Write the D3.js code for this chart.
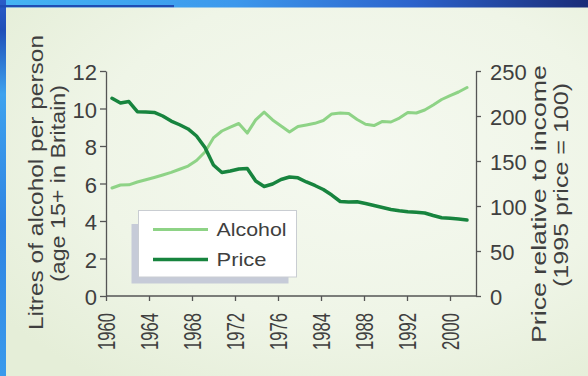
<!DOCTYPE html>
<html>
<head>
<meta charset="utf-8">
<script src="https://cdn.jsdelivr.net/npm/d3@7/dist/d3.min.js"></script>
<style>
  html, body { margin: 0; padding: 0; background: #2f7ee0; }
  svg { display: block; }
  text { font-family: "Liberation Sans", Arial, Helvetica, sans-serif; fill: #3f3f3f; }
</style>
</head>
<body>
<svg id="chart" width="588" height="376"></svg>
<script>
// Annual series, 1960–2002
const years = [1960, 1961, 1962, 1963, 1964, 1965, 1966, 1967, 1968, 1969,
               1970, 1971, 1972, 1973, 1974, 1975, 1976, 1977, 1978, 1979,
               1980, 1981, 1982, 1983, 1984, 1985, 1986, 1987, 1988, 1989,
               1990, 1991, 1992, 1993, 1994, 1995, 1996, 1997, 1998, 1999,
               2000, 2001, 2002];

// Litres of alcohol per person (age 15+)
const alcohol = [5.76, 5.92, 5.93, 6.08, 6.20, 6.32, 6.45, 6.59, 6.76, 6.93,
                 7.23, 7.68, 8.43, 8.80, 9.01, 9.20, 8.69, 9.39, 9.81, 9.39,
                 9.07, 8.75, 9.04, 9.12, 9.21, 9.36, 9.71, 9.76, 9.73, 9.41,
                 9.16, 9.09, 9.31, 9.28, 9.49, 9.79, 9.76, 9.92, 10.19, 10.48,
                 10.69, 10.88, 11.12];

// Price relative to income (1995 price = 100)
const price = [219.7, 214.4, 216.1, 204.8, 204.4, 204.0, 200.0, 194.4, 190.3, 185.6,
               177.8, 165.0, 145.6, 137.2, 138.9, 141.1, 141.7, 127.8, 121.7, 124.4,
               129.4, 132.2, 131.3, 126.7, 122.8, 118.3, 112.2, 105.0, 104.4, 104.7,
               102.8, 100.6, 98.3, 96.1, 94.7, 93.6, 93.0, 92.2, 89.4, 86.9,
               86.3, 85.6, 84.4];

const yearTickLabels = ["1960", "1964", "1968", "1972", "1976", "1984", "1988", "1992", "2000"];
const alcoholTicks = [0, 2, 4, 6, 8, 10, 12];
const priceTicks = [0, 50, 100, 150, 200, 250];
const seriesNames = ["Alcohol", "Price"];
const seriesColors = ["#8ed386", "#17843e"];

const svg = d3.select("#chart");
const W = 588, H = 376;

// ---- backdrop: blue frame and pale panel ----
const defs = svg.append("defs");
const topGrad = defs.append("linearGradient").attr("id", "topGrad");
[["0%", "#44b4f4"], ["40%", "#3c98ec"], ["70%", "#2c63cc"], ["100%", "#1a2c78"]]
  .forEach(([o, c]) => topGrad.append("stop").attr("offset", o).attr("stop-color", c));
const leftGrad = defs.append("linearGradient").attr("id", "leftGrad")
  .attr("x1", 0).attr("y1", 0).attr("x2", 0).attr("y2", 1);
[["0%", "#2a5cc8"], ["8%", "#1f4fb8"], ["25%", "#3ea2ee"], ["60%", "#2f84e2"], ["100%", "#3a9aec"]]
  .forEach(([o, c]) => leftGrad.append("stop").attr("offset", o).attr("stop-color", c));
const panelGrad = defs.append("radialGradient").attr("id", "panelGrad")
  .attr("cx", "60%").attr("cy", "40%").attr("r", "75%");
[["0%", "#f5f9f0"], ["60%", "#eff5e7"], ["100%", "#e5eed8"]]
  .forEach(([o, c]) => panelGrad.append("stop").attr("offset", o).attr("stop-color", c));

svg.append("rect").attr("width", W).attr("height", H).attr("fill", "url(#topGrad)");
svg.append("rect").attr("x", 0).attr("y", 0).attr("width", 6).attr("height", H).attr("fill", "url(#leftGrad)");
svg.append("rect").attr("x", 0).attr("y", 5).attr("width", 174).attr("height", 2.5).attr("fill", "#1f4cb4");
svg.append("rect").attr("x", 6).attr("y", 7.5).attr("width", W - 6).attr("height", H - 7.5).attr("fill", "url(#panelGrad)");

// ---- scales ----
const plotLeft = 106, plotRight = 476, plotTop = 71, plotBottom = 296;
const xYear = d3.scaleLinear().domain([years[0], years[years.length - 1]]).range([112, 467]);
const xTick = d3.scalePoint().domain(yearTickLabels).range([plotLeft, 450]);
const yAlc = d3.scaleLinear().domain([0, 12]).range([plotBottom, plotTop]);
const yPrice = d3.scaleLinear().domain([0, 250]).range([plotBottom, plotTop]);

const axisColor = "#555";

function styleAxis(g) {
  g.attr("font-family", null).attr("font-size", null);
  g.selectAll("path.domain").attr("stroke", axisColor).attr("stroke-width", 1.3);
  g.selectAll(".tick line").attr("stroke", axisColor).attr("stroke-width", 1.3);
  g.selectAll(".tick text").attr("fill", "#404040").style("font-size", "22px");
}

// left axis
svg.append("g")
  .attr("transform", `translate(${plotLeft},0)`)
  .call(d3.axisLeft(yAlc).tickValues(alcoholTicks).tickSize(6).tickSizeOuter(0).tickPadding(3))
  .call(styleAxis)
  .selectAll(".tick text").attr("dy", "0.4em");

// right axis
svg.append("g")
  .attr("transform", `translate(${plotRight},0)`)
  .call(d3.axisRight(yPrice).tickValues(priceTicks).tickSize(5).tickSizeOuter(0).tickPadding(9))
  .call(styleAxis)
  .selectAll(".tick text").attr("dy", "0.38em");

// bottom axis with upright-reading year labels
const xAxisG = svg.append("g")
  .attr("transform", `translate(0,${plotBottom})`)
  .call(d3.axisBottom(xTick).tickSize(5).tickSizeOuter(0))
  .call(styleAxis);
xAxisG.select("path.domain").remove();
xAxisG.append("line")
  .attr("x1", plotLeft).attr("x2", plotRight).attr("y1", 0).attr("y2", 0)
  .attr("stroke", axisColor).attr("stroke-width", 1.3);
xAxisG.selectAll(".tick text")
  .style("font-size", "23px")
  .attr("transform", "rotate(-90)")
  .attr("x", -17).attr("y", 0).attr("dy", "0.36em")
  .attr("text-anchor", "end")
  .attr("textLength", 37).attr("lengthAdjust", "spacingAndGlyphs");

// ---- axis titles ----
function vTitle(text, x, yc, len, size) {
  svg.append("text")
    .attr("transform", `translate(${x},${yc}) rotate(-90)`)
    .attr("text-anchor", "middle")
    .style("font-size", size + "px")
    .attr("textLength", len).attr("lengthAdjust", "spacingAndGlyphs")
    .text(text);
}
vTitle("Litres of alcohol per person", 43, 182.5, 295, 20);
vTitle("(age 15+ in Britain)", 65, 183.5, 197, 20);
vTitle("Price relative to income", 546, 204, 278, 21);
vTitle("(1995 price = 100)", 568, 185, 204, 20);

// ---- series lines ----
const alcLine = d3.line().x((d, i) => xYear(years[i])).y(d => yAlc(d));
const priceLine = d3.line().x((d, i) => xYear(years[i])).y(d => yPrice(d));

svg.append("path").datum(alcohol)
  .attr("d", alcLine).attr("fill", "none")
  .attr("stroke", seriesColors[0]).attr("stroke-width", 3)
  .attr("stroke-linejoin", "round").attr("stroke-linecap", "round");
svg.append("path").datum(price)
  .attr("d", priceLine).attr("fill", "none")
  .attr("stroke", seriesColors[1]).attr("stroke-width", 3.5)
  .attr("stroke-linejoin", "round").attr("stroke-linecap", "round");

// ---- legend box with drop shadow ----
const legend = svg.append("g");
legend.append("rect").attr("x", 131.5).attr("y", 224).attr("width", 157).attr("height", 59.5)
  .attr("fill", "#c6cbd8");
legend.append("rect").attr("x", 138.5).attr("y", 210.5).attr("width", 158).attr("height", 66.5)
  .attr("fill", "#ffffff").attr("stroke", "#c9cdd2").attr("stroke-width", 1);
const legendRows = [229.5, 259.5];
const legendTextLen = [70, 50];
seriesNames.forEach((name, i) => {
  legend.append("line")
    .attr("x1", 153).attr("x2", 208).attr("y1", legendRows[i]).attr("y2", legendRows[i])
    .attr("stroke", seriesColors[i]).attr("stroke-width", i === 0 ? 3 : 3.5);
  legend.append("text")
    .attr("x", 216.5).attr("y", legendRows[i]).attr("dy", "0.36em")
    .style("font-size", "19px")
    .attr("textLength", legendTextLen[i]).attr("lengthAdjust", "spacingAndGlyphs")
    .text(name);
});
</script>
</body>
</html>
